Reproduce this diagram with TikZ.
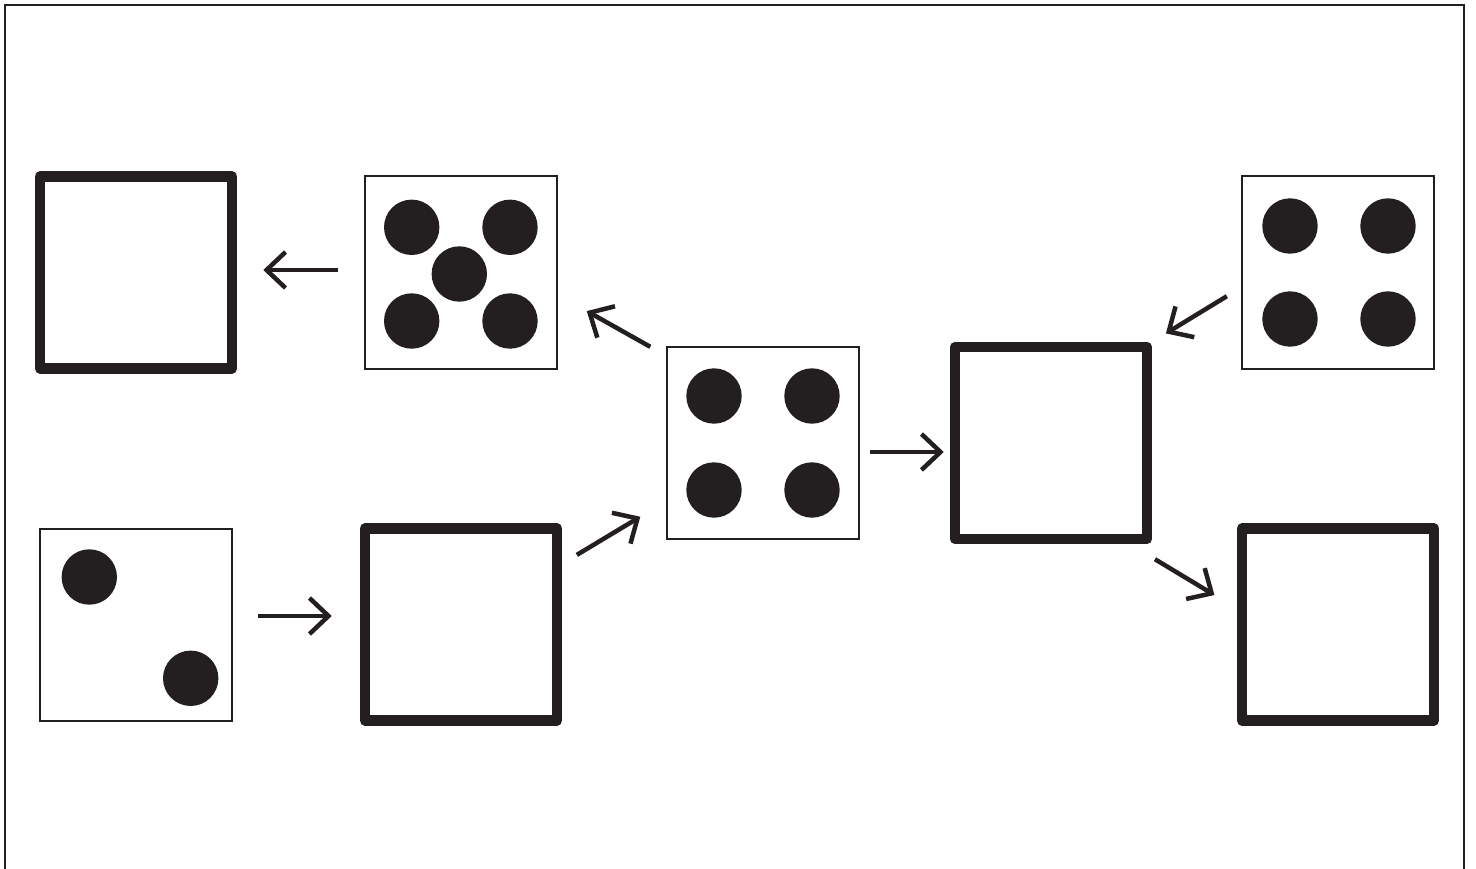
\documentclass[tikz,border=0pt]{standalone}
\usetikzlibrary{arrows.meta}
\definecolor{ink}{RGB}{35,31,32}
\begin{document}
\begin{tikzpicture}[x=1pt,y=-1pt]
\tikzstyle{every node}+=[inner sep=0pt]
\tikzstyle{thinbox}=[draw=ink, line width=2pt, minimum size=192pt]
\tikzstyle{thickbox}=[draw=ink, line width=10.5pt, line join=round, minimum size=192pt]
\tikzstyle{dot}=[fill=ink]
\tikzstyle{arr}=[draw=ink, line width=4.5pt, -{Straight Barb[length=19pt, width=36pt]}]
\useasboundingbox (0,0) rectangle (1476,869);
\draw [ink, line width=2pt] (5,869) -- (5,5) -- (1464,5) -- (1464,869);
\node [thickbox] (A) at (136,272.5) {};
\node [thinbox] (E) at (461,272.5) {};
\node [thinbox] (G) at (1337.5,272.5) {};
\node [thinbox] (F) at (763,443) {};
\node [thickbox] (C) at (1051,443) {};
\node [thinbox] (H) at (135.5,624.5) {};
\node [thickbox] (B) at (461,624.5) {};
\node [thickbox] (D) at (1338,624.5) {};
\foreach \x/\y in {411.7/227.3, 510/227.3, 459.3/274, 411.7/321, 510/321}
  \fill [dot] (\x,\y) circle (27.7);
\foreach \x/\y in {714/396, 812/396, 714/490, 812/490}
  \fill [dot] (\x,\y) circle (27.7);
\foreach \x/\y in {1290/226, 1388/226, 1290/319, 1388/319}
  \fill [dot] (\x,\y) circle (27.7);
\foreach \x/\y in {89.3/577, 190.7/678.3}
  \fill [dot] (\x,\y) circle (27.7);
\draw [arr, shorten <=26pt, shorten >=26pt] ([yshift=2.5pt]E.west) -- ([yshift=2.5pt]A.east);
\draw [arr, shorten <=18pt, shorten >=33pt] (F.138) -- (E.-13.6);
\draw [arr, shorten <=17pt, shorten >=30pt] (B.31.3) -- (F.211.7);
\draw [arr, shorten <=10pt, shorten >=6pt] ([yshift=-9pt]F.east) -- ([yshift=-9pt]C.west);
\draw [arr, shorten <=16pt, shorten >=16pt] (G.189.9) -- (C.45.9);
\draw [arr, shorten <=29pt, shorten >=26pt] (C.-52.8) -- (D.171.2);
\draw [arr, shorten <=25pt, shorten >=28pt] ([yshift=8.5pt]H.east) -- ([yshift=8.5pt]B.west);
\end{tikzpicture}
\end{document}
